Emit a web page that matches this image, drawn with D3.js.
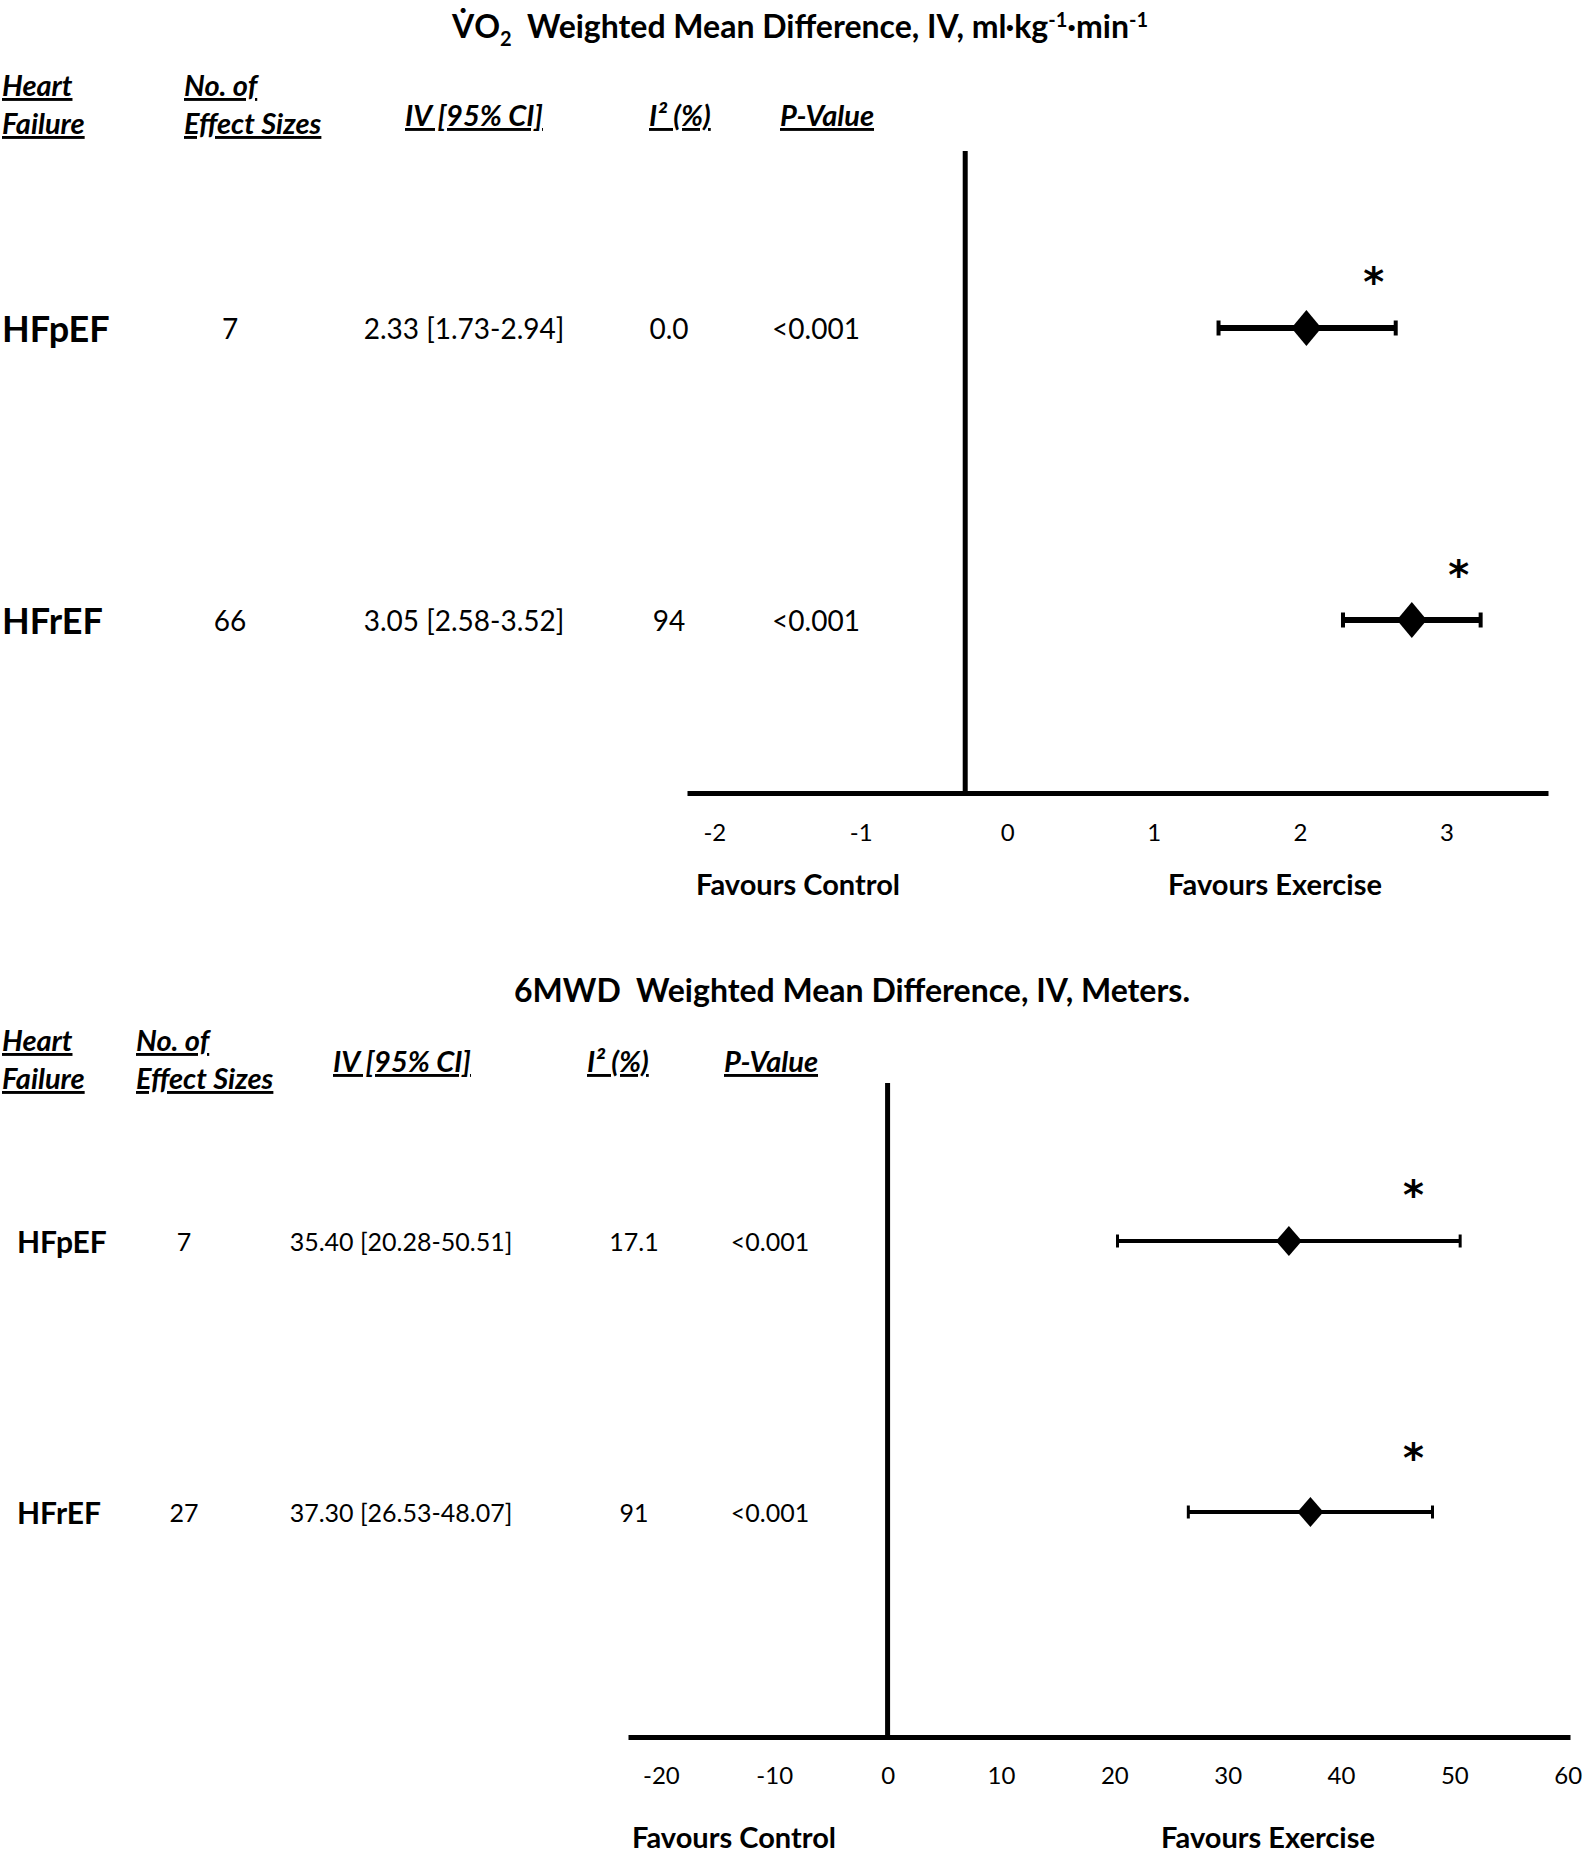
<!DOCTYPE html>
<html>
<head>
<meta charset="utf-8">
<script src="https://cdn.jsdelivr.net/npm/d3@7"></script>
<style>
  body { margin: 0; background: #fff; }
  text { font-family: Lato, "Open Sans", sans-serif; fill: #000; }
</style>
</head>
<body>
<svg id="fig"></svg>
<script>
var W = 1594, H = 1852; // canvas size

// VO2 panel
var vo2Groups = ["HFpEF", "HFrEF"];
var vo2N = ["7", "66"];
var vo2Mean = [2.33, 3.05];
var vo2Lo = [1.73, 2.58];
var vo2Hi = [2.94, 3.52];
var vo2I2 = ["0.0", "94"];
var vo2P = ["<0.001", "<0.001"];
var vo2Ticks = [-2, -1, 0, 1, 2, 3];
var vo2Star = [2.79, 3.37]; // where the asterisks sit on the x scale

// 6MWD panel
var mwdGroups = ["HFpEF", "HFrEF"];
var mwdN = ["7", "27"];
var mwdMean = [35.40, 37.30];
var mwdLo = [20.28, 26.53];
var mwdHi = [50.51, 48.07];
var mwdI2 = ["17.1", "91"];
var mwdP = ["<0.001", "<0.001"];
var mwdTicks = [-20, -10, 0, 10, 20, 30, 40, 50, 60];
var mwdStar = [46.4, 46.4];

var fmt = d3.format(".2f");

var svg = d3.select("#fig").attr("width", W).attr("height", H);

// Helper for translating groups
function gpos(x, y) {
  return "translate(" + x + "," + y + ")";
}

// Diamond path centred on 0,0
function diamond(w, h) {
  var p = d3.path();
  p.moveTo(0, -h); p.lineTo(w, 0); p.lineTo(0, h); p.lineTo(-w, 0); p.closePath();
  return p.toString();
}

function headText(g, c, x, y, s) {
  g.append("text")
    .attr("x", x).attr("y", y)
    .style("font-size", c.headFont + "px")
    .style("font-weight", "bold")
    .style("font-style", "italic")
    .style("text-decoration", "underline")
    .text(s);
}

function drawPanel(c) {
  var g = svg.append("g");
  var x = d3.scaleLinear().domain(c.domain).range(c.range);
  var y = d3.scalePoint().domain(c.groups).range(c.rowY);

  // column headers (bold italic, underlined)
  c.headers.forEach(function(h) {
    if (h.lines.length == 1) {
      headText(g, c, h.x, c.headY1, h.lines[0]);
    } else {
      headText(g, c, h.x, c.headY2[0], h.lines[0]);
      headText(g, c, h.x, c.headY2[1], h.lines[1]);
    }
  });

  // table rows
  var rows = g.selectAll("g.row").data(c.groups).enter().append("g")
    .attr("class", "row")
    .attr("transform", function(d) { return gpos(0, y(d)); });
  rows.append("text")
    .attr("x", c.groupX)
    .attr("dominant-baseline", "central")
    .style("font-size", c.groupFont + "px")
    .style("font-weight", "bold")
    .text(function(d) { return d; });
  var cells = [
    [c.cols.n, c.n],
    [c.cols.ci, c.mean.map(function(m, i) { return fmt(m) + " [" + fmt(c.lo[i]) + "-" + fmt(c.hi[i]) + "]"; })],
    [c.cols.i2, c.i2],
    [c.cols.p, c.p]
  ];
  cells.forEach(function(col) {
    rows.append("text")
      .attr("x", col[0])
      .attr("text-anchor", "middle")
      .attr("dominant-baseline", "central")
      .style("font-size", c.rowFont + "px")
      .text(function(d, i) { return col[1][i]; });
  });

  // zero line
  g.append("line")
    .attr("x1", x(0)).attr("x2", x(0))
    .attr("y1", c.zeroTop).attr("y2", c.axisY)
    .style("stroke", "#000").style("stroke-width", c.lineW);

  // x axis
  var ax = g.append("g")
    .attr("transform", gpos(0, c.axisY))
    .call(d3.axisBottom(x).tickValues(c.ticks).tickFormat(function(d) { return String(d); })
      .tickSize(0).tickSizeOuter(0).tickPadding(c.tickPad));
  ax.select(".domain").style("stroke", "#000").style("stroke-width", c.lineW);
  ax.selectAll("text")
    .attr("dx", c.labelShift)
    .style("font-family", "Lato, 'Open Sans', sans-serif")
    .style("font-size", c.tickFont + "px")
    .style("fill", "#000");

  // error bars
  rows.append("line")
    .attr("x1", function(d, i) { return x(c.lo[i]); })
    .attr("x2", function(d, i) { return x(c.hi[i]); })
    .style("stroke", "#000").style("stroke-width", c.barW);
  [c.lo, c.hi].forEach(function(arr) {
    rows.append("line")
      .attr("x1", function(d, i) { return x(arr[i]); })
      .attr("x2", function(d, i) { return x(arr[i]); })
      .attr("y1", -c.capH / 2).attr("y2", c.capH / 2)
      .style("stroke", "#000").style("stroke-width", c.capW);
  });
  rows.append("path")
    .attr("d", diamond(c.diaW, c.diaH))
    .attr("transform", function(d, i) { return gpos(x(c.mean[i]), 0); })
    .style("fill", "#000");
  // asterisks: baseline placed so the glyph centre lands starDy above the row
  rows.append("text")
    .attr("x", function(d, i) { return x(c.star[i]); })
    .attr("y", function(d, i) { return c.starDy[i] + 0.55 * c.starFont; })
    .attr("text-anchor", "middle")
    .style("font-family", "'DejaVu Sans', sans-serif")
    .style("font-size", c.starFont + "px")
    .style("font-weight", "bold")
    .text("*");

  // favours labels
  [["Favours Control", c.favCtrl], ["Favours Exercise", c.favEx]].forEach(function(f) {
    g.append("text")
      .attr("x", f[1]).attr("y", c.favY)
      .attr("text-anchor", "middle")
      .attr("dominant-baseline", "central")
      .style("font-size", c.favFont + "px")
      .style("font-weight", "bold")
      .text(f[0]);
  });
  return g;
}

// Titles
var t1 = svg.append("text")
  .attr("x", 800).attr("y", 38)
  .attr("text-anchor", "middle")
  .style("font-size", "32px").style("font-weight", "bold");
t1.append("tspan").text("V\u0307O");
t1.append("tspan").attr("dy", 8).style("font-size", "20px").text("2");
t1.append("tspan").attr("dy", -8).text("\u00a0 Weighted Mean Difference, IV, ml\u00b7kg");
t1.append("tspan").attr("dy", -11).style("font-size", "20px").text("-1");
t1.append("tspan").attr("dy", 11).text("\u00b7min");
t1.append("tspan").attr("dy", -11).style("font-size", "20px").text("-1");

svg.append("text")
  .attr("x", 852).attr("y", 1002)
  .attr("text-anchor", "middle")
  .style("font-size", "32px").style("font-weight", "bold")
  .text("6MWD\u00a0 Weighted Mean Difference, IV, Meters.");

drawPanel({
  groups: vo2Groups, n: vo2N, mean: vo2Mean, lo: vo2Lo, hi: vo2Hi, i2: vo2I2, p: vo2P,
  ticks: vo2Ticks, star: vo2Star,
  domain: [-1.9, 3.98], range: [687, 1548], rowY: [328, 620],
  zeroTop: 151, axisY: 793, lineW: 5,
  tickPad: 31, tickFont: 24, labelShift: 42,
  headFont: 29, headY1: 126, headY2: [96, 134],
  headers: [
    { x: 2, lines: ["Heart", "Failure"] },
    { x: 184, lines: ["No. of", "Effect Sizes"] },
    { x: 405, lines: ["IV [95% CI]"] },
    { x: 649, lines: ["I\u00b2 (%)"] },
    { x: 780, lines: ["P-Value"] }
  ],
  groupX: 2, groupFont: 36, rowFont: 28,
  cols: { n: 230, ci: 464, i2: 669, p: 816 },
  barW: 6, capW: 4, capH: 15, diaW: 15, diaH: 18,
  starDy: [-54, -53], starFont: 40,
  favY: 883, favCtrl: 798, favEx: 1275, favFont: 29
});

drawPanel({
  groups: mwdGroups, n: mwdN, mean: mwdMean, lo: mwdLo, hi: mwdHi, i2: mwdI2, p: mwdP,
  ticks: mwdTicks, star: mwdStar,
  domain: [-22.9, 60.2], range: [628, 1570], rowY: [1241, 1512],
  zeroTop: 1083, axisY: 1737, lineW: 5,
  tickPad: 30, tickFont: 24, labelShift: 0,
  headFont: 29, headY1: 1072, headY2: [1051, 1089],
  headers: [
    { x: 2, lines: ["Heart", "Failure"] },
    { x: 136, lines: ["No. of", "Effect Sizes"] },
    { x: 333, lines: ["IV [95% CI]"] },
    { x: 587, lines: ["I\u00b2 (%)"] },
    { x: 724, lines: ["P-Value"] }
  ],
  groupX: 17, groupFont: 30, rowFont: 25,
  cols: { n: 184, ci: 401, i2: 634, p: 770 },
  barW: 4, capW: 3, capH: 13, diaW: 13, diaH: 15,
  starDy: [-54, -62], starFont: 40,
  favY: 1836, favCtrl: 734, favEx: 1268, favFont: 29
});
</script>
</body>
</html>
